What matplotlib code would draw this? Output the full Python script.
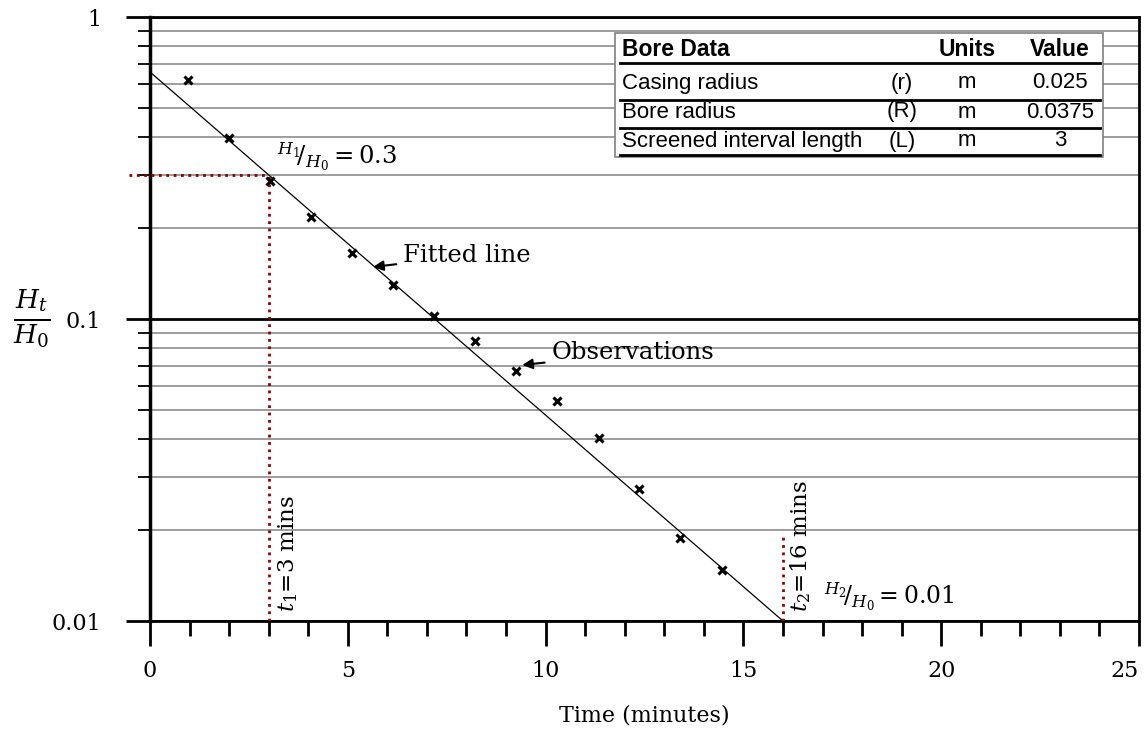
import numpy as np
import matplotlib
matplotlib.use("Agg")
import matplotlib.pyplot as plt
from matplotlib.ticker import FixedLocator, FixedFormatter, MultipleLocator

plt.rcParams['font.family'] = 'DejaVu Serif'
plt.rcParams['mathtext.fontset'] = 'dejavuserif'

# observations (time in minutes, H_t/H_0)
t_obs = [0.96, 2.0, 3.04, 4.07, 5.11, 6.15, 7.19, 8.22, 9.26, 10.3, 11.34, 12.37, 13.41, 14.45]
h_obs = [0.618, 0.397, 0.286, 0.218, 0.1655, 0.1297, 0.102, 0.0846, 0.0673, 0.0535, 0.0404, 0.0274, 0.0188, 0.0148]

# two points picked on the fitted line
t1, h1 = 3, 0.3
t2, h2 = 16, 0.01

xticks = [0, 5, 10, 15, 20, 25]
yticks = [0.01, 0.1, 1]
ytick_labels = ["0.01", "0.1", "1"]
yminor = [m * d for d in (0.01, 0.1) for m in range(2, 10)]

table_title = ["Bore Data", "", "Units", "Value"]
table_rows = [
    ["Casing radius", "(r)", "m", "0.025"],
    ["Bore radius", "(R)", "m", "0.0375"],
    ["Screened interval length", "(L)", "m", "3"],
]

fig = plt.figure(figsize=(11.48, 7.31), dpi=100)
ax = fig.add_axes([150 / 1148, 1 - 621 / 731, 989 / 1148, 604 / 731])
ax.set_yscale('log')
ax.set_xlim(0, 25)
ax.set_ylim(0.01, 1)

# fitted line through the two picked points, extended to t=0
k = np.log10(h2 / h1) / (t2 - t1)
tf = np.array([0, t2])
hf = h1 * 10 ** (k * (tf - t1))
ax.plot(tf, hf, color='black', lw=0.9, zorder=3)
ax.plot(t_obs, h_obs, 'x', color='black', ms=6, mew=2.2, zorder=4)

red = '#8b0000'
ax.plot([-0.52, t1], [h1, h1], ls=':', color=red, lw=2, clip_on=False, zorder=3)
ax.plot([t1, t1], [0.01, h1], ls=':', color=red, lw=2, zorder=3)
ax.plot([t2, t2], [0.01, 0.0193], ls=':', color=red, lw=2, zorder=3)

# axes styling
ax.yaxis.set_major_locator(FixedLocator(yticks))
ax.yaxis.set_major_formatter(FixedFormatter(ytick_labels))
ax.yaxis.set_minor_locator(FixedLocator(yminor))
ax.yaxis.set_minor_formatter(FixedFormatter([]))
ax.set_xticks(xticks)
ax.xaxis.set_minor_locator(MultipleLocator(1))
ax.tick_params(axis='y', which='major', direction='out', length=17, width=2, labelsize=16, pad=18)
ax.tick_params(axis='y', which='minor', direction='out', length=9, width=1.3)
ax.tick_params(axis='x', which='major', direction='out', length=18, width=2, labelsize=16, pad=10)
ax.tick_params(axis='x', which='minor', direction='out', length=11, width=2)
ax.grid(True, axis='y', which='minor', color='#8c8c8c', lw=1.2)
ax.grid(True, axis='y', which='major', color='black', lw=2)
for s in ax.spines.values():
    s.set_linewidth(2)
ax.spines['left'].set_linewidth(2.5)
ax.set_axisbelow(True)

ax.set_xlabel("Time (minutes)", fontsize=16, labelpad=16)
fig.text(32 / 1148, 1 - 318 / 731, r'$\frac{H_t}{H_0}$', fontsize=27, ha='center', va='center')

# annotations
ax.text(3.2, 0.305, r'$^{H_1}\!/_{H_0} = 0.3$', fontsize=17.5, ha='left', va='bottom')
ax.text(17.05, 0.0106, r'$^{H_2}\!/_{H_0} = 0.01$', fontsize=17, ha='left', va='bottom')
ax.text(3.2, 0.0107, r'$t_1$=3 mins', fontsize=16.5, rotation=90, ha='left', va='bottom')
ax.text(16.15, 0.0107, r'$t_2$=16 mins', fontsize=16.5, rotation=90, ha='left', va='bottom')
ax.annotate("Fitted line", xy=(5.64, 0.1487), xytext=(6.4, 0.162), fontsize=17.5,
            ha='left', va='center',
            arrowprops=dict(arrowstyle='-|>', color='black', lw=1.5, mutation_scale=15, shrinkA=3, shrinkB=0))
ax.annotate("Observations", xy=(9.41, 0.0704), xytext=(10.15, 0.0772), fontsize=17.5,
            ha='left', va='center',
            arrowprops=dict(arrowstyle='-|>', color='black', lw=1.5, mutation_scale=15, shrinkA=3, shrinkB=0))

# bore data table
def fx(px):
    return px / 1148

def fy(py):
    return 1 - py / 731

box = plt.Rectangle((fx(615), fy(157)), fx(1103) - fx(615), fy(33) - fy(157),
                    transform=fig.transFigure, facecolor='white', edgecolor='#808080', lw=1.2, zorder=5)
fig.add_artist(box)
col_x = [622, 902, 967, 1060]
col_ha = ['left', 'center', 'center', 'center']
row_y = [50, 83, 112, 141]
line_y = [63, 100, 128, 155]
tfont = dict(family='Liberation Sans', zorder=6)
for j, txt in enumerate(table_title):
    fig.text(fx(col_x[j]), fy(row_y[0]), txt, ha=col_ha[j], va='center', fontweight='bold',
             fontsize=16.5, **tfont)
for i, row in enumerate(table_rows):
    for j, txt in enumerate(row):
        fig.text(fx(col_x[j]), fy(row_y[i + 1]), txt, ha=col_ha[j], va='center', fontsize=16, **tfont)
for ly in line_y:
    fig.add_artist(plt.Line2D([fx(620), fx(1100)], [fy(ly), fy(ly)], transform=fig.transFigure,
                              color='black', lw=2, zorder=6))

# keep the last x label inside the figure
fig.canvas.draw()
for tick in ax.xaxis.get_major_ticks():
    if tick.get_loc() == xticks[-1]:
        tick.label1.set_horizontalalignment('right')

fig.savefig("out.png", dpi=100)
